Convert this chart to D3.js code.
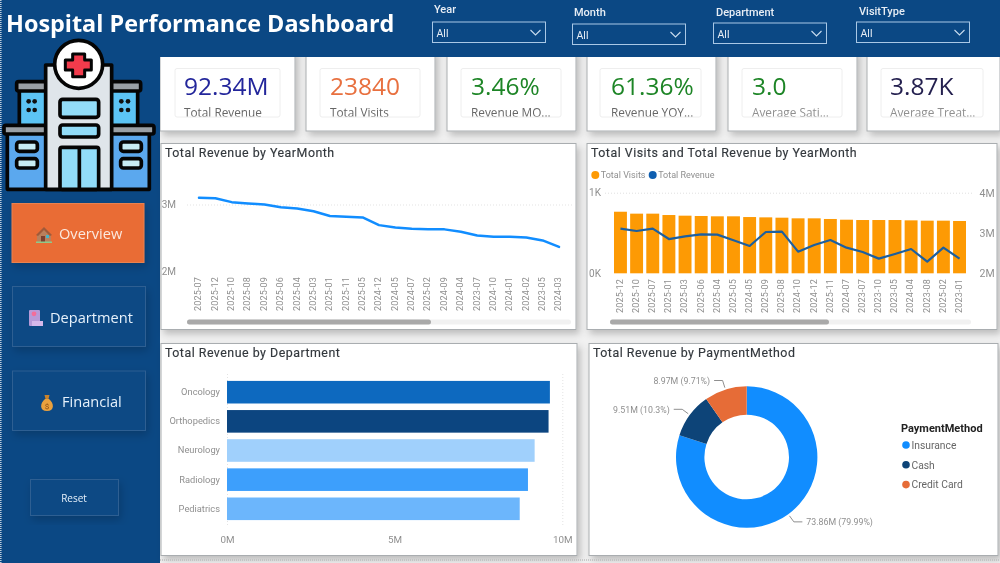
<!DOCTYPE html>
<html>
<head>
<meta charset="utf-8">
<script src="https://cdn.jsdelivr.net/npm/d3@7"></script>
<style>
    html, body { margin: 0; padding: 0; background: #f1f1f1; overflow: hidden; }
    svg { display: block; font-family: Roboto, sans-serif; filter: blur(0.3px); }
    .kpi { font-family: "Open Sans", sans-serif; }
    .title { font-family: Roboto, sans-serif; font-size: 12.4px; font-weight: 400; fill: #33383d; letter-spacing: .5px; stroke: #33383d; stroke-width: .15px; }
    .tick text { font-family: Roboto, sans-serif; fill: #8f8f8f; }
</style>
</head>
<body>
<svg id="chart" width="1000" height="563"></svg>
<script>
// kpi cards
const kpiValues = ["92.34M", "23840", "3.46%", "61.36%", "3.0", "3.87K"];
const kpiLabels = ["Total Revenue", "Total Visits", "Revenue MO...", "Revenue YOY...", "Average Sati...", "Average Treat..."];
const kpiColors = ["#23269b", "#e8703f", "#1d8526", "#1d8526", "#1d8526", "#231f4e"];

// slicers and nav
const slicerNames = ["Year", "Month", "Department", "VisitType"];

// Total Revenue by YearMonth (millions)
const revenueMonths = ["2025-07", "2025-12", "2025-10", "2025-08", "2025-09", "2025-06", "2025-04", "2025-03", "2025-01", "2025-11", "2025-05", "2024-12", "2024-05", "2024-07", "2025-02", "2024-09", "2024-04", "2023-07", "2024-10", "2024-01", "2024-02", "2023-05", "2024-03"];
const revenueValues = [3.10, 3.094, 3.035, 3.015, 3.0, 2.96, 2.94, 2.90, 2.83, 2.817, 2.807, 2.693, 2.658, 2.64, 2.63, 2.63, 2.594, 2.54, 2.52, 2.52, 2.51, 2.465, 2.37];

// Total Visits and Total Revenue by YearMonth
const comboMonths = ["2025-12", "2025-10", "2025-07", "2025-01", "2025-03", "2025-06", "2025-04", "2025-05", "2024-05", "2025-09", "2025-08", "2024-10", "2024-12", "2025-11", "2024-07", "2023-07", "2023-10", "2023-05", "2024-04", "2023-08", "2025-02", "2023-01"];
const comboVisits = [0.764, 0.74, 0.74, 0.723, 0.715, 0.711, 0.707, 0.707, 0.698, 0.694, 0.69, 0.682, 0.682, 0.674, 0.665, 0.661, 0.661, 0.661, 0.657, 0.653, 0.653, 0.649];
const comboRevenue = [3.107, 3.05, 3.107, 2.85, 2.917, 2.967, 2.959, 2.818, 2.678, 3.025, 3.033, 2.537, 2.702, 2.826, 2.636, 2.529, 2.364, 2.479, 2.603, 2.289, 2.636, 2.364];

// Total Revenue by Department
const departments = ["Oncology", "Orthopedics", "Neurology", "Radiology", "Pediatrics"];
const departmentValues = [9.63, 9.59, 9.175, 8.976, 8.73];
const departmentColors = ["#0d69bf", "#0c4580", "#a0d0fc", "#3d9ffc", "#6cb6fc"];

// Total Revenue by PaymentMethod
const paymentMethods = ["Insurance", "Cash", "Credit Card"];
const paymentValues = [73.86, 9.51, 8.97];
const paymentLabels = ["73.86M (79.99%)", "9.51M (10.3%)", "8.97M (9.71%)"];
const paymentColors = ["#118dff", "#0d4478", "#e66c37"];

const navy = "#0b4884";
const svg = d3.select("#chart");

const defs = svg.append("defs");
const shadow = defs.append("filter").attr("id", "shadow")
    .attr("x", "-10%").attr("y", "-10%").attr("width", "125%").attr("height", "130%");
shadow.append("feDropShadow")
    .attr("dx", 3).attr("dy", 4).attr("stdDeviation", 3.5)
    .attr("flood-color", "#000").attr("flood-opacity", 0.22);
const soft = defs.append("filter").attr("id", "soft")
    .attr("x", "-15%").attr("y", "-15%").attr("width", "130%").attr("height", "140%");
soft.append("feDropShadow")
    .attr("dx", 2).attr("dy", 4).attr("stdDeviation", 4)
    .attr("flood-color", "#000").attr("flood-opacity", 0.18);

// page furniture
svg.append("rect").attr("width", 1000).attr("height", 563).attr("fill", "#f1f1f1");

function panel(x, y, w, h, title, titleX) {
    svg.append("rect")
        .attr("x", x).attr("y", y).attr("width", w).attr("height", h)
        .attr("fill", "#fff").attr("stroke", "#a9adb0").attr("stroke-width", 1)
        .attr("filter", "url(#shadow)");
    if (title) {
        svg.append("text").attr("class", "title")
            .attr("x", titleX).attr("y", y + 13).text(title);
    }
}

// kpi cards
const cardX = [160, 306, 447, 587, 728, 867];
const cardW = [135, 129, 129, 129, 129, 133];
const innerX = [175, 320, 461, 600, 742, 881];
const valueX = [184, 330, 471, 611, 752, 890];
const innerW = [105, 100, 100, 101, 100, 102];

kpiValues.forEach((v, i) => {
    svg.append("rect")
        .attr("x", cardX[i]).attr("y", 50).attr("width", cardW[i]).attr("height", 81)
        .attr("fill", "#fff").attr("stroke", "#a9adb0")
        .attr("filter", "url(#shadow)");
    svg.append("text").attr("class", "kpi")
        .attr("x", valueX[i]).attr("y", 95)
        .attr("font-size", 24.5).attr("fill", kpiColors[i]).text(v);
    svg.append("text").attr("class", "kpi")
        .attr("x", valueX[i]).attr("y", 116.5)
        .attr("font-size", 11.8).attr("fill", i > 3 ? "#8f8f8f" : "#666").text(kpiLabels[i]);
    // the visual box clips the descenders of its label
    svg.append("rect")
        .attr("x", innerX[i]).attr("y", 117).attr("width", innerW[i]).attr("height", 4)
        .attr("fill", "#fff");
    svg.append("rect")
        .attr("x", innerX[i]).attr("y", 68.5).attr("width", innerW[i]).attr("height", 48.5)
        .attr("rx", 2).attr("fill", "none").attr("stroke", "#eeeeee");
});

// header + sidebar
svg.append("rect").attr("x", 0).attr("y", 0).attr("width", 1000).attr("height", 57).attr("fill", navy);
svg.append("rect").attr("x", 0).attr("y", 0).attr("width", 160).attr("height", 563).attr("fill", navy);
svg.append("line").attr("x1", 0.8).attr("x2", 0.8).attr("y1", 0).attr("y2", 563)
    .attr("stroke", "#c8d4e0").attr("stroke-width", 1.5).attr("stroke-dasharray", "1 1");

svg.append("text")
    .attr("x", 6).attr("y", 32)
    .attr("font-family", "'Open Sans', sans-serif").attr("font-weight", 700)
    .attr("font-size", 23.4).attr("fill", "#fff")
    .text("Hospital Performance Dashboard");

// slicers
const slicerLabelX = [434, 574, 716, 859];
const slicerLabelY = [13, 16, 16, 15];
const slicerBoxX = [432.5, 572.5, 713.5, 856.5];
const slicerBoxY = [22, 24, 23, 22];

slicerNames.forEach((name, i) => {
    svg.append("text")
        .attr("x", slicerLabelX[i]).attr("y", slicerLabelY[i])
        .attr("font-size", 11).attr("font-weight", 500).attr("fill", "#e8eef5").text(name);
    svg.append("rect")
        .attr("x", slicerBoxX[i]).attr("y", slicerBoxY[i]).attr("width", 113).attr("height", 20.5)
        .attr("fill", "none").attr("stroke", "#a9c8e6").attr("stroke-width", 1);
    svg.append("text")
        .attr("x", slicerBoxX[i] + 4).attr("y", slicerBoxY[i] + 15)
        .attr("font-size", 10.5).attr("fill", "#e8eef5").text("All");
    svg.append("path")
        .attr("d", `M${slicerBoxX[i] + 98},${slicerBoxY[i] + 8}l5,5l5,-5`)
        .attr("fill", "none").attr("stroke", "#c9dcef").attr("stroke-width", 1.1);
});

// hospital icon, traced in zoomed coordinates
const icon = svg.append("g").attr("transform", "translate(0,30) scale(0.3333)")
    .attr("stroke", "#050505").attr("stroke-width", 11).attr("stroke-linejoin", "round");
icon.append("rect").attr("x", 22).attr("y", 305).attr("width", 426).attr("height", 173).attr("fill", "#5ba8ee");
icon.append("rect").attr("x", 58).attr("y", 175).attr("width", 355).attr("height", 125).attr("fill", "#5cc4f5");
icon.append("rect").attr("x", 50).attr("y", 155).attr("width", 372).attr("height", 28).attr("rx", 6).attr("fill", "#9aa0a6");
icon.append("rect").attr("x", 12).attr("y", 286).attr("width", 450).attr("height", 26).attr("rx", 6).attr("fill", "#9aa0a6");
icon.append("rect").attr("x", 137).attr("y", 105).attr("width", 198).attr("height", 373).attr("fill", "#dfe5ea");
icon.append("circle").attr("cx", 236).attr("cy", 103).attr("r", 72).attr("fill", "#fff");
icon.append("path")
    .attr("d", "M218,72h36v18h20v30h-20v20h-36v-20h-22v-30h22z")
    .attr("fill", "#f23b4c").attr("stroke-width", 9);
[[180, 208, 116, 54], [180, 285, 116, 36]].forEach(d => {
    icon.append("rect").attr("x", d[0]).attr("y", d[1]).attr("width", d[2]).attr("height", d[3])
        .attr("rx", 8).attr("fill", "#92dcf8");
});
icon.append("rect").attr("x", 180).attr("y", 352).attr("width", 116).attr("height", 126).attr("rx", 6).attr("fill", "#92dcf8");
icon.append("line").attr("x1", 238).attr("x2", 238).attr("y1", 352).attr("y2", 478);
[50, 362].forEach(x => {
    [336, 386].forEach(y => {
        icon.append("rect").attr("x", x).attr("y", y).attr("width", 62).attr("height", 28)
            .attr("rx", 8).attr("fill", "#c8ecf4");
    });
});
[[86, 214], [104, 214], [86, 240], [104, 240], [364, 214], [384, 214], [364, 240], [384, 240]].forEach(d => {
    icon.append("circle").attr("cx", d[0]).attr("cy", d[1]).attr("r", 7).attr("fill", "#111").attr("stroke", "none");
});

// nav buttons
const navNames = ["Overview", "Department", "Financial"];
const navBoxes = [[12, 203.5, 132, 59], [12.5, 286.5, 133, 60], [12.5, 371, 133, 59.5]];
const navTextX = [59, 50, 62];
const navTextY = [239, 323, 407];

navNames.forEach((name, i) => {
    const b = navBoxes[i];
    svg.append("rect")
        .attr("x", b[0]).attr("y", b[1]).attr("width", b[2]).attr("height", b[3])
        .attr("fill", i === 0 ? "#e96c36" : navy)
        .attr("stroke", i === 0 ? "#e9824f" : "#2d5f92")
        .attr("filter", "url(#soft)");
    svg.append("text")
        .attr("x", navTextX[i]).attr("y", navTextY[i])
        .attr("font-family", "'Open Sans', sans-serif")
        .attr("font-size", 14.6).attr("fill", i === 0 ? "#fbe9df" : "#e6f1fb").text(name);
});

// little emoji-like icons on the buttons
const house = svg.append("g").attr("transform", "translate(36,227)");
house.append("path").attr("d", "M8,1L15,8V15H1V8z").attr("fill", "#b9805c");
house.append("path").attr("d", "M8,0L16,8L14,9L8,3L2,9L0,8z").attr("fill", "#a05a3a");
house.append("rect").attr("x", 5).attr("y", 9).attr("width", 4).attr("height", 6).attr("fill", "#7a3f30");
house.append("rect").attr("x", 10).attr("y", 8).attr("width", 3).attr("height", 3).attr("fill", "#46b4c8");
house.append("rect").attr("x", 0).attr("y", 14.5).attr("width", 16).attr("height", 1.5).attr("fill", "#8fc98a");

const clinic = svg.append("g").attr("transform", "translate(29,310)");
clinic.append("rect").attr("x", 0).attr("y", 0).attr("width", 11).attr("height", 16).attr("rx", 1).attr("fill", "#b79ad8");
clinic.append("rect").attr("x", 3).attr("y", 11).attr("width", 11).attr("height", 5).attr("fill", "#d5b8ea");
clinic.append("circle").attr("cx", 5).attr("cy", 3.8).attr("r", 2.4).attr("fill", "#f36d9a");

const bag = svg.append("g").attr("transform", "translate(40,395)");
bag.append("path").attr("d", "M5,4C0,8,-1,16,7,16C15,16,14,8,9,4z").attr("fill", "#e9a13e");
bag.append("path").attr("d", "M4.5,0H9.5L8.5,4H5.5z").attr("fill", "#c9822b");
bag.append("text").attr("x", 7).attr("y", 14).attr("text-anchor", "middle")
    .attr("font-size", 8).attr("fill", "#8a4d12").text("$");

svg.append("rect")
    .attr("x", 30.5).attr("y", 479.5).attr("width", 88).attr("height", 36)
    .attr("fill", navy).attr("stroke", "#2d5f92").attr("filter", "url(#soft)");
svg.append("text")
    .attr("x", 74).attr("y", 501.5).attr("text-anchor", "middle")
    .attr("font-family", "'Open Sans', sans-serif")
    .attr("font-size", 10).attr("fill", "#e6f1fb").text("Reset");

// ---- Total Revenue by YearMonth
panel(161, 143.5, 415, 186, "Total Revenue by YearMonth", 165);

const lineX = d3.scaleBand().domain(revenueMonths).range([190.8, 567.2]);
const lineY = d3.scaleLinear().domain([2, 3]).range([271.7, 204.5]);

svg.append("g")
    .attr("transform", "translate(187,0)")
    .call(d3.axisLeft(lineY).tickValues([3]).tickSize(-385).tickFormat(""))
    .call(g => g.select(".domain").remove())
    .call(g => g.selectAll("line").attr("stroke", "#e3e3e3").attr("stroke-dasharray", "1 2"));

svg.append("g")
    .attr("transform", "translate(179,0)")
    .call(d3.axisLeft(lineY).tickValues([2, 3]).tickSize(0).tickFormat(d => d + "M"))
    .call(g => g.select(".domain").remove())
    .call(g => g.selectAll("text").attr("font-size", 10));

function monthAxis(scale, y) {
    return g => g
        .attr("transform", `translate(0,${y})`)
        .call(d3.axisBottom(scale).tickSize(0))
        .call(g => g.select(".domain").remove())
        .call(g => g.selectAll("text")
            .attr("font-size", 9)
            .attr("letter-spacing", ".15px")
            .attr("text-anchor", "end")
            .attr("dx", 0).attr("dy", 0)
            .attr("y", 0).attr("x", 0)
            .attr("dominant-baseline", "middle")
            .attr("transform", "rotate(-90)"));
}

svg.append("g").call(monthAxis(lineX, 277));

svg.append("path")
    .datum(revenueValues)
    .attr("fill", "none").attr("stroke", "#118dff").attr("stroke-width", 2.5)
    .attr("stroke-linejoin", "round").attr("stroke-linecap", "round")
    .attr("d", d3.line()
        .x((d, i) => lineX(revenueMonths[i]) + lineX.bandwidth() / 2)
        .y(d => lineY(d)));

function scrollbar(x1, x2, thumbEnd) {
    svg.append("rect").attr("x", x1).attr("y", 319.5).attr("width", x2 - x1).attr("height", 5)
        .attr("rx", 2.5).attr("fill", "#f1f1f1");
    svg.append("rect").attr("x", x1).attr("y", 319.5).attr("width", thumbEnd - x1).attr("height", 5)
        .attr("rx", 2.5).attr("fill", "#a9a9a9");
}
scrollbar(187, 571, 431);

// ---- Total Visits and Total Revenue by YearMonth
panel(587, 143.5, 410, 186, "Total Visits and Total Revenue by YearMonth", 591);

const comboX = d3.scaleBand().domain(comboMonths).range([614, 966]).paddingInner(0.2);
const visitsY = d3.scaleLinear().domain([0, 1]).range([273.3, 192.7]);
const comboRevY = d3.scaleLinear().domain([2, 4]).range([273.3, 192.7]);

svg.append("g")
    .attr("transform", "translate(605,0)")
    .call(d3.axisLeft(visitsY).tickValues([1]).tickSize(-368).tickFormat(""))
    .call(g => g.select(".domain").remove())
    .call(g => g.selectAll("line").attr("stroke", "#e0e0e0").attr("stroke-dasharray", "1 2"));

svg.append("g")
    .attr("transform", "translate(604,0)")
    .call(d3.axisLeft(visitsY).tickValues([0, 1]).tickSize(0).tickFormat(d => d + "K"))
    .call(g => g.select(".domain").remove())
    .call(g => g.selectAll("text").attr("font-size", 10));

svg.append("g")
    .attr("transform", "translate(976.5,0)")
    .call(d3.axisRight(comboRevY).tickValues([2, 3, 4]).tickSize(0).tickFormat(d => d + "M"))
    .call(g => g.select(".domain").remove())
    .call(g => g.selectAll("text").attr("font-size", 10.5));

svg.append("g").selectAll("rect")
    .data(comboVisits)
    .join("rect")
    .attr("x", (d, i) => comboX(comboMonths[i]))
    .attr("y", d => visitsY(d))
    .attr("width", comboX.bandwidth())
    .attr("height", d => visitsY(0) - visitsY(d))
    .attr("fill", "#fd9a04");

svg.append("g").call(monthAxis(comboX, 279));

svg.append("path")
    .datum(comboRevenue)
    .attr("fill", "none").attr("stroke", "#1c5f9f").attr("stroke-width", 2.2)
    .attr("stroke-linejoin", "round")
    .attr("d", d3.line()
        .x((d, i) => comboX(comboMonths[i]) + comboX.bandwidth() / 2)
        .y(d => comboRevY(d)));

const comboLegend = [["Total Visits", "#fd9a04", 595.3], ["Total Revenue", "#0f5fb0", 652.7]];
comboLegend.forEach(d => {
    svg.append("circle").attr("cx", d[2]).attr("cy", 175).attr("r", 4).attr("fill", d[1]);
    svg.append("text").attr("x", d[2] + 5.5).attr("y", 178.3)
        .attr("font-size", 9).attr("fill", "#8f8f8f").text(d[0]);
});

scrollbar(610, 971, 829);

// ---- Total Revenue by Department
panel(161, 343.5, 416, 212, "Total Revenue by Department", 165);

const deptX = d3.scaleLinear().domain([0, 10]).range([227, 562.3]);
const deptY = d3.scaleBand().domain(departments).range([377.7, 523.3]).paddingInner(0.225).paddingOuter(0.11);

svg.append("g")
    .attr("transform", "translate(0,525)")
    .call(d3.axisBottom(deptX).tickValues([0, 10]).tickSize(-152).tickFormat(""))
    .call(g => g.select(".domain").remove())
    .call(g => g.selectAll("line").attr("stroke", "#e3e3e3").attr("stroke-dasharray", "1 2"));

svg.append("g")
    .attr("transform", "translate(0,533)")
    .call(d3.axisBottom(deptX).tickValues([0, 5, 10]).tickSize(0).tickFormat(d => d + "M"))
    .call(g => g.select(".domain").remove())
    .call(g => g.selectAll("text").attr("font-size", 9.8));

svg.append("g")
    .attr("transform", "translate(223,0)")
    .call(d3.axisLeft(deptY).tickSize(0))
    .call(g => g.select(".domain").remove())
    .call(g => g.selectAll("text").attr("font-size", 9.3));

svg.append("g").selectAll("rect")
    .data(departmentValues)
    .join("rect")
    .attr("x", deptX(0))
    .attr("y", (d, i) => deptY(departments[i]))
    .attr("width", d => deptX(d) - deptX(0))
    .attr("height", deptY.bandwidth())
    .attr("fill", (d, i) => departmentColors[i]);

// ---- Total Revenue by PaymentMethod
panel(589, 343.5, 409, 212, "Total Revenue by PaymentMethod", 593);

const pieCenterX = 746.7, pieCenterY = 457;
const outerR = 70.7, innerR = 42.3;
const pie = d3.pie().sort(null)(paymentValues);
const arc = d3.arc().innerRadius(innerR).outerRadius(outerR);
const donut = svg.append("g").attr("transform", `translate(${pieCenterX},${pieCenterY})`);

donut.selectAll("path.slice")
    .data(pie)
    .join("path")
    .attr("class", "slice")
    .attr("d", arc)
    .attr("fill", (d, i) => paymentColors[i]);

// leader lines and labels
pie.forEach((d, i) => {
    const mid = (d.startAngle + d.endAngle) / 2;
    const side = Math.sin(mid) > 0 ? 1 : -1;
    const p0 = [Math.sin(mid) * (outerR + 2), -Math.cos(mid) * (outerR + 2)];
    const p1 = [Math.sin(mid) * (outerR + 9.5), -Math.cos(mid) * (outerR + 9.5)];
    const p2 = [p1[0] + side * 8.5, p1[1]];
    donut.append("polyline")
        .attr("points", [p0, p1, p2].join(" "))
        .attr("fill", "none").attr("stroke", "#8f8f8f").attr("stroke-width", 1);
    donut.append("text")
        .attr("x", p2[0] + side * 4).attr("y", p2[1] + 3.5)
        .attr("text-anchor", side > 0 ? "start" : "end")
        .attr("font-size", 8.8).attr("fill", "#8f8f8f")
        .text(paymentLabels[i]);
});

svg.append("text")
    .attr("x", 901).attr("y", 432)
    .attr("font-size", 11).attr("font-weight", 700).attr("fill", "#222")
    .text("PaymentMethod");

const legendY = d3.scalePoint().domain(paymentMethods).range([445, 484.6]);
paymentMethods.forEach((name, i) => {
    svg.append("circle").attr("cx", 906).attr("cy", legendY(name)).attr("r", 3.8).attr("fill", paymentColors[i]);
    svg.append("text").attr("x", 911.5).attr("y", legendY(name) + 3.8)
        .attr("font-size", 10.3).attr("fill", "#666").text(name);
});

// dotted strip along the bottom of the page
svg.append("line").attr("x1", 160).attr("x2", 1000).attr("y1", 560).attr("y2", 560)
    .attr("stroke", "#bdbdbd").attr("stroke-width", 1.5).attr("stroke-dasharray", "1 1");
</script>
</body>
</html>
